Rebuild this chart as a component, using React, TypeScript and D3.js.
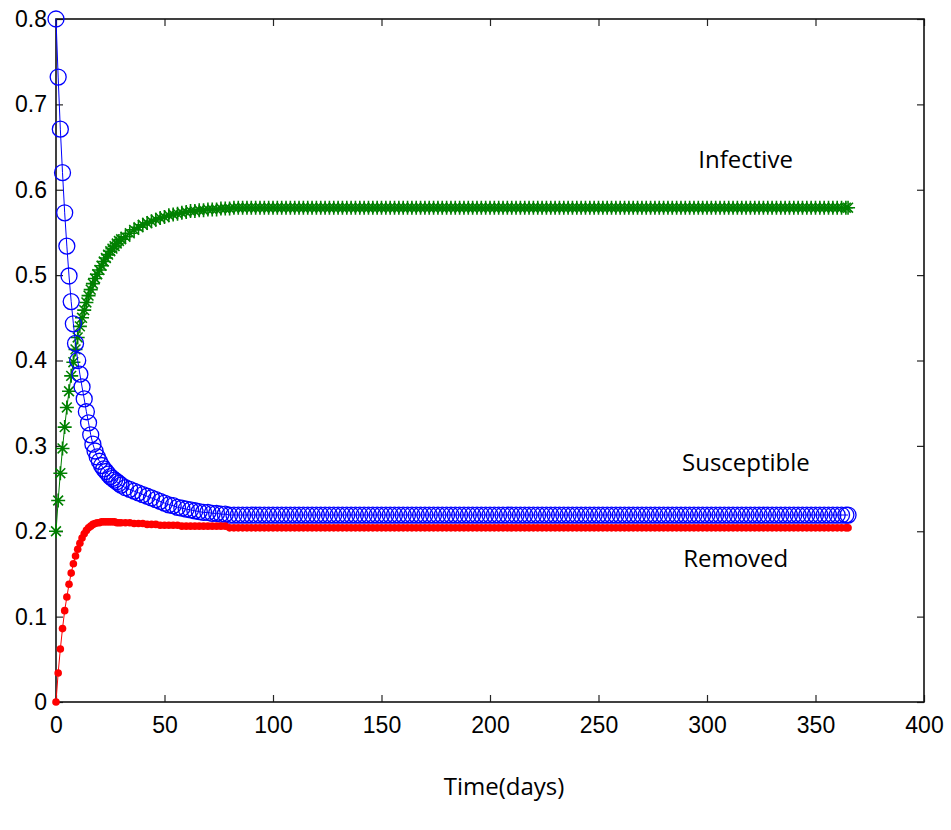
import React, { useRef, useEffect } from 'react';
import * as d3 from 'd3';

const xTicks = [0, 50, 100, 150, 200, 250, 300, 350, 400];
const yTicks = [0, 0.1, 0.2, 0.3, 0.4, 0.5, 0.6, 0.7, 0.8];
const xLabel = 'Time(days)';
const curveNames = ['Infective', 'Susceptible', 'Removed'];

// sample days: every day for the first month, every other day after that
const earlyDays = d3.range(0, 31);
const laterDays = d3.range(32, 365, 2).concat([365]);

// blue circles (days 0..30)
const susceptibleEarly = [
  0.800, 0.732, 0.671, 0.620, 0.573, 0.534, 0.499, 0.469, 0.443, 0.420,
  0.400, 0.384, 0.369, 0.355, 0.340, 0.327, 0.313, 0.302, 0.294, 0.287,
  0.282, 0.277, 0.273, 0.270, 0.267, 0.264, 0.262, 0.260, 0.258, 0.256,
  0.254,
];
// days 32..80
const susceptibleMid = [
  0.251, 0.249, 0.247, 0.245, 0.243, 0.241, 0.239, 0.237, 0.235, 0.233,
  0.231, 0.230, 0.228, 0.227, 0.226, 0.225, 0.224, 0.223, 0.222, 0.222,
  0.221, 0.221, 0.220, 0.220, 0.219,
];
// days 82..364 and 365
const susceptibleLate = [
  0.219, 0.219, 0.219, 0.219, 0.219, 0.219, 0.219, 0.219, 0.219, 0.219,
  0.219, 0.219, 0.219, 0.219, 0.219, 0.219, 0.219, 0.219, 0.219, 0.219,
  0.219, 0.219, 0.219, 0.219, 0.219, 0.219, 0.219, 0.219, 0.219, 0.219,
  0.219, 0.219, 0.219, 0.219, 0.219, 0.219, 0.219, 0.219, 0.219, 0.219,
  0.219, 0.219, 0.219, 0.219, 0.219, 0.219, 0.219, 0.219, 0.219, 0.219,
  0.219, 0.219, 0.219, 0.219, 0.219, 0.219, 0.219, 0.219, 0.219, 0.219,
  0.219, 0.219, 0.219, 0.219, 0.219, 0.219, 0.219, 0.219, 0.219, 0.219,
  0.219, 0.219, 0.219, 0.219, 0.219, 0.219, 0.219, 0.219, 0.219, 0.219,
  0.219, 0.219, 0.219, 0.219, 0.219, 0.219, 0.219, 0.219, 0.219, 0.219,
  0.219, 0.219, 0.219, 0.219, 0.219, 0.219, 0.219, 0.219, 0.219, 0.219,
  0.219, 0.219, 0.219, 0.219, 0.219, 0.219, 0.219, 0.219, 0.219, 0.219,
  0.219, 0.219, 0.219, 0.219, 0.219, 0.219, 0.219, 0.219, 0.219, 0.219,
  0.219, 0.219, 0.219, 0.219, 0.219, 0.219, 0.219, 0.219, 0.219, 0.219,
  0.219, 0.219, 0.219, 0.219, 0.219, 0.219, 0.219, 0.219, 0.219, 0.219,
  0.219, 0.219, 0.219,
];

// green asterisks
const infectiveEarly = [
  0.200, 0.236, 0.268, 0.297, 0.322, 0.345, 0.364, 0.382, 0.398, 0.413,
  0.427, 0.440, 0.450, 0.459, 0.468, 0.476, 0.483, 0.490, 0.496, 0.501,
  0.506, 0.511, 0.516, 0.520, 0.524, 0.528, 0.531, 0.534, 0.537, 0.540,
  0.542,
];
const infectiveMid = [
  0.545, 0.549, 0.553, 0.556, 0.559, 0.561, 0.563, 0.565, 0.567, 0.568,
  0.570, 0.571, 0.572, 0.573, 0.574, 0.575, 0.575, 0.576, 0.576, 0.577,
  0.577, 0.577, 0.578, 0.578, 0.578,
];
const infectiveLate = [
  0.579, 0.579, 0.579, 0.579, 0.579, 0.579, 0.579, 0.579, 0.579, 0.579,
  0.579, 0.579, 0.579, 0.579, 0.579, 0.579, 0.579, 0.579, 0.579, 0.579,
  0.579, 0.579, 0.579, 0.579, 0.579, 0.579, 0.579, 0.579, 0.579, 0.579,
  0.579, 0.579, 0.579, 0.579, 0.579, 0.579, 0.579, 0.579, 0.579, 0.579,
  0.579, 0.579, 0.579, 0.579, 0.579, 0.579, 0.579, 0.579, 0.579, 0.579,
  0.579, 0.579, 0.579, 0.579, 0.579, 0.579, 0.579, 0.579, 0.579, 0.579,
  0.579, 0.579, 0.579, 0.579, 0.579, 0.579, 0.579, 0.579, 0.579, 0.579,
  0.579, 0.579, 0.579, 0.579, 0.579, 0.579, 0.579, 0.579, 0.579, 0.579,
  0.579, 0.579, 0.579, 0.579, 0.579, 0.579, 0.579, 0.579, 0.579, 0.579,
  0.579, 0.579, 0.579, 0.579, 0.579, 0.579, 0.579, 0.579, 0.579, 0.579,
  0.579, 0.579, 0.579, 0.579, 0.579, 0.579, 0.579, 0.579, 0.579, 0.579,
  0.579, 0.579, 0.579, 0.579, 0.579, 0.579, 0.579, 0.579, 0.579, 0.579,
  0.579, 0.579, 0.579, 0.579, 0.579, 0.579, 0.579, 0.579, 0.579, 0.579,
  0.579, 0.579, 0.579, 0.579, 0.579, 0.579, 0.579, 0.579, 0.579, 0.579,
  0.579, 0.579, 0.579,
];

// red dots
const removedEarly = [
  0.000, 0.034, 0.062, 0.086, 0.107, 0.123, 0.138, 0.151, 0.162, 0.171,
  0.179, 0.186, 0.192, 0.197, 0.201, 0.204, 0.206, 0.208, 0.209, 0.210,
  0.210, 0.211, 0.211, 0.211, 0.211, 0.211, 0.211, 0.211, 0.210, 0.210,
  0.210,
];
const removedMid = [
  0.210, 0.210, 0.209, 0.209, 0.209, 0.208, 0.208, 0.208, 0.207, 0.207,
  0.207, 0.207, 0.207, 0.206, 0.206, 0.206, 0.206, 0.206, 0.206, 0.206,
  0.206, 0.206, 0.206, 0.206, 0.204,
];
const removedLate = [
  0.204, 0.204, 0.204, 0.204, 0.204, 0.204, 0.204, 0.204, 0.204, 0.204,
  0.204, 0.204, 0.204, 0.204, 0.204, 0.204, 0.204, 0.204, 0.204, 0.204,
  0.204, 0.204, 0.204, 0.204, 0.204, 0.204, 0.204, 0.204, 0.204, 0.204,
  0.204, 0.204, 0.204, 0.204, 0.204, 0.204, 0.204, 0.204, 0.204, 0.204,
  0.204, 0.204, 0.204, 0.204, 0.204, 0.204, 0.204, 0.204, 0.204, 0.204,
  0.204, 0.204, 0.204, 0.204, 0.204, 0.204, 0.204, 0.204, 0.204, 0.204,
  0.204, 0.204, 0.204, 0.204, 0.204, 0.204, 0.204, 0.204, 0.204, 0.204,
  0.204, 0.204, 0.204, 0.204, 0.204, 0.204, 0.204, 0.204, 0.204, 0.204,
  0.204, 0.204, 0.204, 0.204, 0.204, 0.204, 0.204, 0.204, 0.204, 0.204,
  0.204, 0.204, 0.204, 0.204, 0.204, 0.204, 0.204, 0.204, 0.204, 0.204,
  0.204, 0.204, 0.204, 0.204, 0.204, 0.204, 0.204, 0.204, 0.204, 0.204,
  0.204, 0.204, 0.204, 0.204, 0.204, 0.204, 0.204, 0.204, 0.204, 0.204,
  0.204, 0.204, 0.204, 0.204, 0.204, 0.204, 0.204, 0.204, 0.204, 0.204,
  0.204, 0.204, 0.204, 0.204, 0.204, 0.204, 0.204, 0.204, 0.204, 0.204,
  0.204, 0.204, 0.204,
];

const days = earlyDays.concat(laterDays);
const susceptible = susceptibleEarly.concat(susceptibleMid, susceptibleLate);
const infective = infectiveEarly.concat(infectiveMid, infectiveLate);
const removed = removedEarly.concat(removedMid, removedLate);

function toPoints(values: number[]) {
  const n = Math.min(days.length, values.length);
  return d3.range(n).map(i => [days[i], values[i]] as [number, number]);
}

function Chart() {
  const svgRef = useRef<SVGSVGElement>(null);
  const width = 951;
  const height = 830;
  const margin = { top: 19, right: 27, bottom: 128, left: 56 };

  useEffect(() => {
    const svg = d3.select(svgRef.current);
    svg.selectAll('*').remove();

    const x = d3.scaleLinear().domain([0, 400]).range([margin.left, width - margin.right]);
    const y = d3.scaleLinear().domain([0, 0.8]).range([height - margin.bottom, margin.top]);

    const tickFont = '"Liberation Sans", Arial, sans-serif';
    const labelFont = '"Open Sans", "Noto Sans", sans-serif';

    // axes with inward ticks (box style)
    const styleAxis = (g: any, labels: boolean) => {
      g.select('.domain').remove();
      g.selectAll('.tick line').attr('stroke', '#262626').attr('stroke-width', 1.2);
      g.selectAll('.tick text')
        .attr('fill', '#000')
        .style('font-family', tickFont)
        .style('font-size', '23px');
      if (!labels) g.selectAll('.tick text').remove();
    };

    svg.append('g')
      .attr('transform', `translate(0,${y(0)})`)
      .call(d3.axisBottom(x).tickValues(xTicks).tickSize(-7).tickPadding(15).tickFormat(d3.format('d')))
      .call((g: any) => styleAxis(g, true));
    svg.append('g')
      .attr('transform', `translate(0,${y(0.8)})`)
      .call(d3.axisTop(x).tickValues(xTicks).tickSize(-7))
      .call((g: any) => styleAxis(g, false));
    svg.append('g')
      .attr('transform', `translate(${x(0)},0)`)
      .call(d3.axisLeft(y).tickValues(yTicks).tickSize(-7).tickPadding(9).tickFormat((d: any) => (d === 0 ? '0' : d3.format('.1f')(d))))
      .call((g: any) => styleAxis(g, true));
    svg.append('g')
      .attr('transform', `translate(${x(400)},0)`)
      .call(d3.axisRight(y).tickValues(yTicks).tickSize(-7))
      .call((g: any) => styleAxis(g, false));

    svg.append('rect')
      .attr('x', x(0))
      .attr('y', y(0.8))
      .attr('width', x(400) - x(0))
      .attr('height', y(0) - y(0.8))
      .attr('fill', 'none')
      .attr('stroke', '#111')
      .attr('stroke-width', 1.6);

    const line = d3.line<[number, number]>().x(d => x(d[0])).y(d => y(d[1]));

    // green asterisks
    const iPts = toPoints(infective);
    svg.append('path').attr('d', line(iPts)).attr('fill', 'none').attr('stroke', '#008000').attr('stroke-width', 1);
    const s = 7;
    const k = s * 0.7;
    const star = `M${-s},0H${s}M0,${-s}V${s}M${-k},${-k}L${k},${k}M${-k},${k}L${k},${-k}`;
    svg.append('g').selectAll('path').data(iPts).join('path')
      .attr('transform', d => `translate(${x(d[0])},${y(d[1])})`)
      .attr('d', star)
      .attr('fill', 'none')
      .attr('stroke', '#008000')
      .attr('stroke-width', 1.6);

    // blue circles
    const sPts = toPoints(susceptible);
    svg.append('path').attr('d', line(sPts)).attr('fill', 'none').attr('stroke', '#0000ff').attr('stroke-width', 1);
    svg.append('g').selectAll('circle').data(sPts).join('circle')
      .attr('cx', d => x(d[0]))
      .attr('cy', d => y(d[1]))
      .attr('r', 8)
      .attr('fill', 'none')
      .attr('stroke', '#0000ff')
      .attr('stroke-width', 1.3);

    // red dots
    const rPts = toPoints(removed);
    svg.append('path').attr('d', line(rPts)).attr('fill', 'none').attr('stroke', '#ff0000').attr('stroke-width', 1);
    svg.append('g').selectAll('circle').data(rPts).join('circle')
      .attr('cx', d => x(d[0]))
      .attr('cy', d => y(d[1]))
      .attr('r', 3.8)
      .attr('fill', '#ff0000');

    // curve labels
    const labelAt = [[296, 0.626], [288.5, 0.270], [289, 0.158]];
    svg.append('g').selectAll('text').data(curveNames).join('text')
      .attr('x', (d, i) => x(labelAt[i][0]))
      .attr('y', (d, i) => y(labelAt[i][1]))
      .style('font-family', labelFont)
      .style('font-size', '24px')
      .attr('fill', '#000')
      .text(d => d);

    svg.append('text')
      .attr('x', 504)
      .attr('y', 795)
      .attr('text-anchor', 'middle')
      .style('font-family', labelFont)
      .style('font-size', '24px')
      .attr('fill', '#000')
      .text(xLabel);
  }, [height, margin.bottom, margin.left, margin.right, margin.top, width]);

  return (
    <svg
      ref={svgRef}
      width={width}
      height={height}
      style={{ position: 'absolute', left: 0, top: 0, background: '#fff' }}
    />
  );
}

export default function App() {
  return <Chart />;
}
